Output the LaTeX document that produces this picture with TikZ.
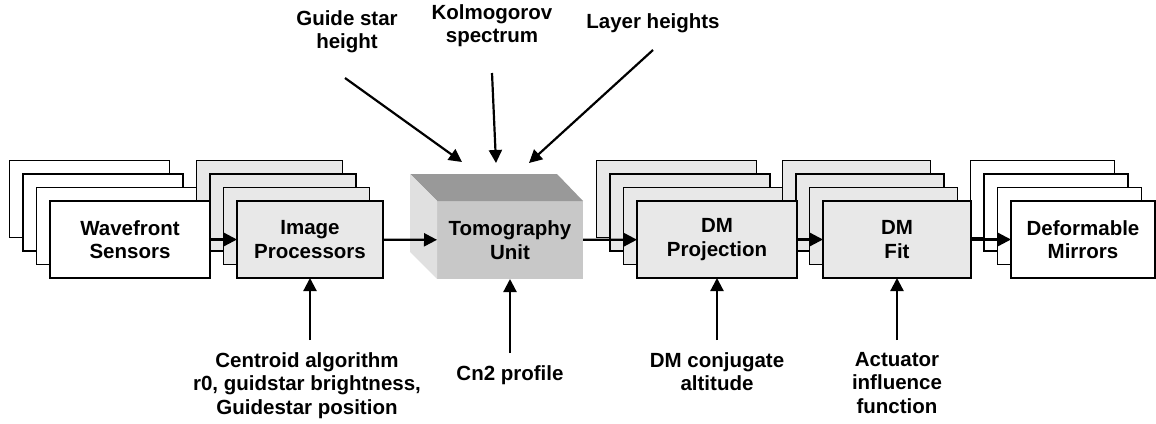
\documentclass[tikz,border=0pt]{standalone}
\usepackage{fontspec}
\setmainfont{Liberation Sans}
\usetikzlibrary{arrows.meta,calc}
\definecolor{boxgray}{HTML}{E8E8E8}
\definecolor{tomofront}{HTML}{C8C8C8}
\definecolor{tomotop}{HTML}{999999}
\definecolor{tomoside}{HTML}{E0E0E0}
\tikzset{
  txt/.style={font=\bfseries\fontsize{20.5}{23.5}\selectfont, align=center, inner sep=0pt},
  blk/.style={txt, draw=black, line width=1.8pt, minimum height=77pt, outer sep=0pt},
  arr/.style={line width=2.2pt, -{Triangle[length=13pt,width=13pt]}},
}
\newcommand\backstack[4]{%
  \foreach \i in {3,2,1}{%
    \node[blk, fill=#4, minimum width=#3pt] (#1b\i) at ({#2-13.5*\i},{-239.5+13.5*\i}) {};
  }%
}
\begin{document}
\begin{tikzpicture}[x=1pt,y=1pt]
\useasboundingbox (0,0) rectangle (1156,-423);
% back boxes of the stacks
\backstack{wfs}{130}{160}{white}
\backstack{ip}{310}{146}{boxgray}
\backstack{dmp}{717}{160}{boxgray}
\backstack{dmf}{897}{148}{boxgray}
\backstack{dm}{1083}{144}{white}
% front boxes
\node[blk, fill=white, minimum width=160pt] (wfs) at (130,-239.5) {Wavefront\\Sensors};
\node[blk, fill=boxgray, minimum width=146pt] (ip) at (310,-239.5) {Image\\Processors};
\node[blk, fill=boxgray, minimum width=160pt] (dmp) at (717,-239.5) {DM\\Projection};
\node[blk, fill=boxgray, minimum width=148pt] (dmf) at (897,-239.5) {DM\\Fit};
\node[blk, fill=white, minimum width=144pt] (dm) at (1083,-239.5) {Deformable\\Mirrors};
% tomography unit (3D box)
\node[txt, fill=tomofront, minimum width=146pt, minimum height=78pt, outer sep=0pt] (tomo) at (510,-240) {Tomography\\Unit};
\fill[tomotop] (tomo.north west) -- (tomo.north east) -- ++(-26,27) -- ($(tomo.north west)+(-27,27)$) -- cycle;
\fill[tomoside] (tomo.north west) -- ++(-27,27) -- ($(tomo.south west)+(-27,27)$) -- (tomo.south west) -- cycle;
% main chain arrows
\draw[arr] (wfs) -- (ip);
\draw[arr] (ip) -- (tomo);
\draw[arr] (tomo) -- (dmp);
\draw[arr] (dmp) -- (dmf);
\draw[arr] (dmf) -- (dm);
% top inputs
\node[txt, anchor=north] (gsh) at (347,-10) {Guide star\\height};
\node[txt, anchor=north] (kol) at (492,-4) {Kolmogorov\\spectrum};
\node[txt, anchor=north] (lay) at (653,-13) {Layer heights};
\coordinate (g1) at (345,-78);  \coordinate (g2) at (462,-162);
\coordinate (k1) at (492,-73);  \coordinate (k2) at (496,-163);
\coordinate (l1) at (653,-50);  \coordinate (l2) at (529,-163);
\draw[arr] (g1) -- (g2);
\draw[arr] (k1) -- (k2);
\draw[arr] (l1) -- (l2);
% bottom inputs
\coordinate (b1) at (310,-340);
\coordinate (b2) at (510,-353);
\coordinate (b3) at (717,-340);
\coordinate (b4) at (897,-340);
\draw[arr] (b1) -- (ip);
\draw[arr] (b2) -- (tomo);
\draw[arr] (b3) -- (dmp);
\draw[arr] (b4) -- (dmf);
\node[txt, anchor=north] (cen) at (307,-352) {Centroid algorithm\\r0, guidstar brightness,\\Guidestar position};
\node[txt, anchor=north] (cn2) at (510,-365) {Cn2 profile};
\node[txt, anchor=north] (dmc) at (717,-352) {DM conjugate\\altitude};
\node[txt, anchor=north] (act) at (897,-352) {Actuator\\influence\\function};
\end{tikzpicture}
\end{document}
